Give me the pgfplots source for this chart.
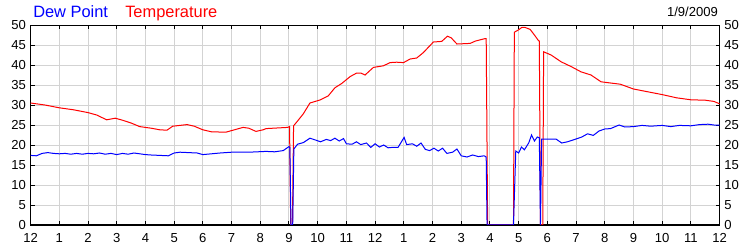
\documentclass[border=0pt]{standalone}
\usepackage{fontspec}
\setmainfont{Liberation Sans}
\usepackage{pgfplots}
\pgfplotsset{compat=1.18}
\definecolor{gridgray}{RGB}{211,211,211}
\definecolor{tred}{RGB}{255,0,0}
\definecolor{dblue}{RGB}{0,0,255}
\begin{document}
\begin{tikzpicture}
\useasboundingbox (-22.95pt,-18.75pt) rectangle (539.55pt,168.75pt);
\begin{axis}[
  at={(0,0)}, anchor=south west,
  scale only axis, width=516.75pt, height=150pt,
  xmin=0, xmax=24, ymin=0, ymax=50,
  xtick={0,...,24},
  xticklabels={12,1,2,3,4,5,6,7,8,9,10,11,12,1,2,3,4,5,6,7,8,9,10,11,12},
  ytick={0,5,...,50},
  grid=major,
  grid style={color=gridgray, line width=0.75pt},
  tick align=inside,
  xtick pos=both, ytick pos=both,
  yticklabel pos=left,
  major tick length=3pt,
  tick style={black, line width=0.75pt},
  axis line style={black, line width=0.75pt},
  ticklabel style={font=\fontsize{9.8}{10}\selectfont},
  xticklabel style={yshift=-2.5pt},
  /pgf/number format/assume math mode=true,
]
\addplot[tred, line width=0.75pt] table {
0 30.5
0.5 30.0
1.0 29.3
1.5 28.8
2.0 28.1
2.3 27.5
2.65 26.3
2.95 26.7
3.2 26.2
3.5 25.5
3.8 24.6
4.2 24.2
4.5 23.8
4.75 23.7
4.95 24.7
5.2 24.9
5.45 25.1
5.7 24.7
6.0 23.8
6.3 23.3
6.8 23.2
7.1 23.8
7.4 24.4
7.6 24.2
7.85 23.4
8.1 23.8
8.2 24.1
8.95 24.4
9.02 24.6
9.06 0
9.12 0
9.16 24.8
9.3 26.0
9.5 27.8
9.73 30.5
10.08 31.25
10.37 32.3
10.6 34.3
10.84 35.4
11.13 37.1
11.36 38.0
11.5 38.0
11.65 37.5
11.94 39.4
12.29 39.8
12.52 40.6
12.75 40.7
12.99 40.6
13.22 41.5
13.45 41.75
13.68 43.1
14.03 45.75
14.32 45.9
14.52 47.2
14.65 46.8
14.85 45.25
15.31 45.4
15.5 46.0
15.83 46.6
15.87 46.6
15.92 0
16.82 0
16.85 48.2
17.0 48.8
17.11 49.4
17.22 49.4
17.4 48.9
17.55 47.5
17.69 46.1
17.72 46.0
17.76 0
17.84 0
17.87 43.3
18.13 42.5
18.48 40.8
18.83 39.6
19.17 38.3
19.52 37.5
19.87 35.8
20.2 35.5
20.54 35.2
21.0 34.0
21.5 33.3
22.0 32.6
22.5 31.8
23.0 31.3
23.5 31.2
23.8 30.9
24.0 30.3
};
\addplot[dblue, line width=0.75pt] table {
0 17.4
0.2 17.3
0.4 17.9
0.6 18.1
0.8 17.9
1.0 17.8
1.2 17.9
1.4 17.7
1.6 17.9
1.8 17.7
2.0 17.9
2.2 17.8
2.4 18.0
2.6 17.7
2.8 17.9
3.0 17.6
3.2 17.9
3.4 17.7
3.6 18.0
3.8 17.8
4.0 17.6
4.2 17.5
4.5 17.4
4.8 17.3
5.0 18.0
5.2 18.2
5.5 18.1
5.8 18.0
6.0 17.6
6.3 17.8
6.6 18.0
7.0 18.2
7.3 18.2
7.6 18.2
7.9 18.3
8.2 18.4
8.5 18.3
8.8 18.6
9.0 19.6
9.03 19.4
9.07 0
9.13 0
9.17 19.0
9.3 20.2
9.5 20.6
9.73 21.7
9.9 21.3
10.1 20.8
10.3 21.4
10.45 21.1
10.6 21.7
10.75 21.0
10.9 21.6
11.0 20.3
11.2 20.2
11.35 20.8
11.5 20.1
11.7 20.5
11.85 19.4
12.0 20.3
12.15 19.5
12.3 20.0
12.45 19.3
12.6 19.4
12.8 19.4
13.01 21.9
13.1 20.1
13.3 20.3
13.45 19.7
13.6 20.5
13.75 18.9
13.9 18.6
14.05 19.2
14.2 18.5
14.35 19.2
14.5 17.9
14.7 18.2
14.85 19.0
15.0 17.3
15.2 17.0
15.4 17.5
15.6 17.1
15.8 17.3
15.87 17.0
15.9 0
16.82 0
16.9 18.5
17.0 18.0
17.1 19.5
17.2 18.8
17.35 20.5
17.45 22.5
17.55 21.0
17.65 22.0
17.72 21.8
17.76 0
17.8 21.5
18.3 21.5
18.5 20.5
18.7 20.8
19.0 21.5
19.2 22.0
19.4 22.8
19.6 22.4
19.8 23.5
20.0 24.0
20.2 24.1
20.5 25.0
20.7 24.5
21.0 24.6
21.3 24.9
21.6 24.7
22.0 24.9
22.3 24.6
22.6 24.9
23.0 24.8
23.3 25.1
23.6 25.2
23.8 25.0
24.0 25.0
};
\end{axis}
\begin{axis}[
  at={(0,0)}, anchor=south west,
  scale only axis, width=516.75pt, height=150pt,
  xmin=0, xmax=24, ymin=0, ymax=50,
  hide x axis,
  axis y line*=right,
  axis line style={draw=none},
  ytick={0,5,...,50},
  major tick length=0pt,
  ytick style={draw=none},
  ticklabel style={font=\fontsize{9.8}{10}\selectfont},
  /pgf/number format/assume math mode=true,
]
\addplot[draw=none] coordinates {(0,0)};
\end{axis}
\node[anchor=base west, text=dblue, font=\fontsize{12.3}{14}\selectfont, inner sep=0pt] at (1.8pt,155.5pt) {Dew Point};
\node[anchor=base west, text=tred, font=\fontsize{12.3}{14}\selectfont, inner sep=0pt] at (70.8pt,155.5pt) {Temperature};
\node[anchor=base east, text=black, font=\fontsize{9.8}{10}\selectfont, inner sep=0pt] at (515.7pt,156.7pt) {1/9/2009};
\end{tikzpicture}
\end{document}
